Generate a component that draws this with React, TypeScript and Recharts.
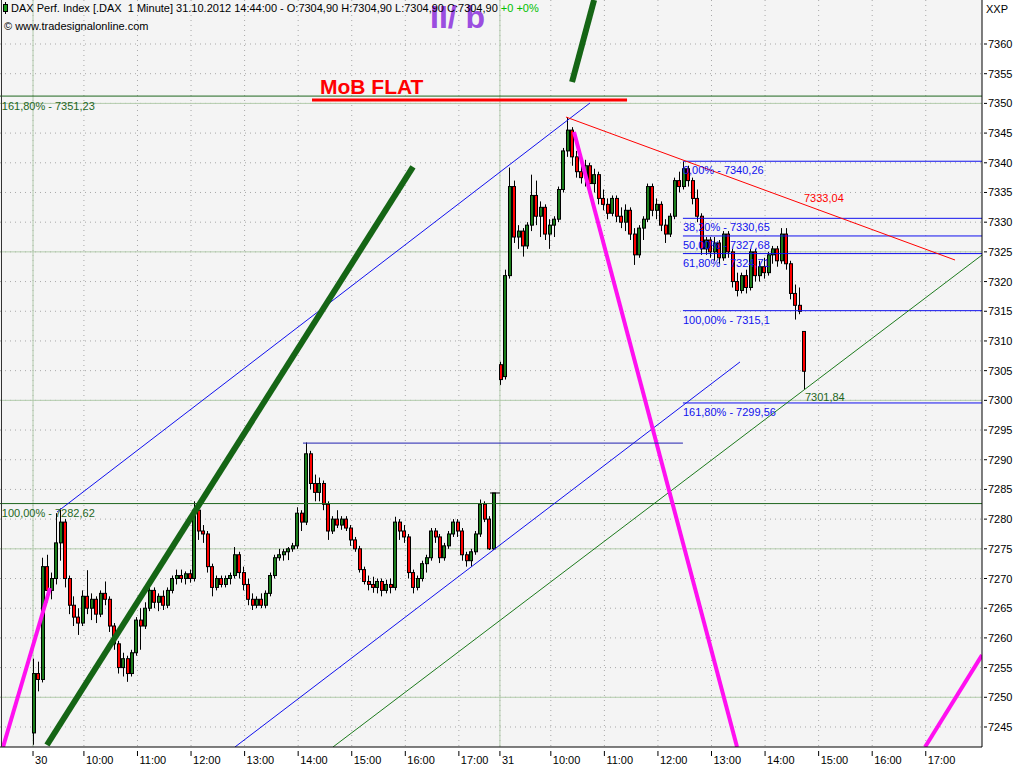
import React from "react";
import {
  ComposedChart,
  Bar,
  XAxis,
  YAxis,
  CartesianGrid,
  ReferenceLine,
  ReferenceDot,
} from "recharts";

type Ohlc = [number, number, number, number];

// 5-minute candles, 30.10.2012 (open, high, low, close)
const day1: Ohlc[] = [
  [7244, 7256.5, 7242, 7254], [7254, 7256, 7251, 7253], [7253, 7273.5, 7252.5, 7272], [7272, 7274, 7266, 7268],
  [7268, 7271, 7266.5, 7270], [7270, 7281, 7269, 7276], [7276, 7281.8, 7273, 7279.5], [7279.5, 7280, 7268.5, 7270],
  [7270, 7270.5, 7264, 7265.5], [7265.5, 7267, 7262, 7263.5], [7263.5, 7265, 7260.5, 7262.5], [7262.5, 7268, 7262, 7267],
  [7267, 7271.4, 7264, 7265], [7265, 7267.5, 7263, 7266.5], [7266.5, 7267, 7262.5, 7264], [7264, 7268, 7263.5, 7267.5],
  [7267.5, 7269.5, 7265.5, 7266.5], [7266.5, 7267, 7261, 7262], [7262, 7262.5, 7258, 7259], [7259, 7259.5, 7254, 7255],
  [7255, 7257.5, 7253.5, 7256.5], [7256.5, 7257, 7252.6, 7254], [7254, 7258, 7253.5, 7257.5], [7257.5, 7263.5, 7257, 7263],
  [7263, 7265, 7258, 7262], [7262, 7266, 7261.5, 7265], [7265, 7268.5, 7264.5, 7268], [7268, 7268.5, 7265, 7266],
  [7266, 7267.5, 7264.5, 7267], [7267, 7268, 7264.7, 7265.5], [7265.5, 7268.5, 7265, 7268], [7268, 7270.5, 7267.5, 7270],
  [7270, 7271.5, 7269, 7270.5], [7270.5, 7271.5, 7269.3, 7270], [7270, 7271.2, 7269, 7270.8], [7270.8, 7271.5, 7269.3, 7270],
  [7270, 7283, 7269.5, 7281.5], [7281.5, 7282, 7276.5, 7278], [7278, 7279, 7276, 7277.5], [7277.5, 7278, 7271, 7272],
  [7272, 7272.5, 7267, 7268.5], [7268.5, 7270.5, 7268, 7270], [7270, 7270.5, 7268.5, 7269], [7269, 7270.5, 7268.5, 7270],
  [7270, 7271, 7269, 7270.5], [7270.5, 7275.3, 7270, 7274], [7274, 7274.5, 7270, 7271], [7271, 7272, 7268, 7269],
  [7269, 7270, 7265.5, 7266.5], [7266.5, 7267.5, 7264.7, 7265.5], [7265.5, 7267, 7265, 7266.5], [7266.5, 7267.5, 7265, 7265.5],
  [7265.5, 7268, 7265, 7267.5], [7267.5, 7271, 7267, 7270.5], [7270.5, 7274, 7270, 7273.5], [7273.5, 7275, 7273, 7274],
  [7274, 7275, 7273, 7274.5], [7274.5, 7275.3, 7273.1, 7275], [7275, 7276, 7274.5, 7275.5], [7275.5, 7282, 7275, 7281],
  [7281, 7281.5, 7278, 7279.5], [7279.5, 7292.9, 7279, 7291], [7291, 7291.5, 7285, 7286], [7286, 7287.5, 7283, 7284.5],
  [7284.5, 7287, 7283, 7286], [7286, 7286.5, 7281.5, 7282.5], [7282.5, 7283, 7276.5, 7278], [7278, 7280.5, 7277.5, 7280],
  [7280, 7281.5, 7278.5, 7279], [7279, 7280.5, 7278.2, 7280], [7280, 7280.5, 7278, 7278.5], [7278.5, 7279, 7275.5, 7276.5],
  [7276.5, 7277, 7274.5, 7275], [7275, 7275.5, 7271, 7271.5], [7271.5, 7272, 7269, 7269.5], [7269.5, 7270.5, 7268, 7269],
  [7269, 7270.3, 7267.6, 7268.5], [7268.5, 7270, 7267.5, 7269.5], [7269.5, 7270, 7267, 7268], [7268, 7269.8, 7267.5, 7269],
  [7269, 7270, 7267.5, 7268.5], [7268.5, 7280.4, 7268, 7279.5], [7279.5, 7280, 7276.5, 7278], [7278, 7279, 7276, 7277],
  [7277, 7277.5, 7270, 7271], [7271, 7271.5, 7267.5, 7268.5], [7268.5, 7270.5, 7268, 7270], [7270, 7273, 7269.5, 7272.5],
  [7272.5, 7274, 7271, 7273.5], [7273.5, 7278.5, 7273, 7278], [7278, 7278.5, 7276, 7277], [7277, 7277.5, 7272.6, 7273.5],
  [7273.5, 7276, 7273, 7275.5], [7275.5, 7278, 7275, 7277.5], [7277.5, 7280, 7277, 7279.5], [7279.5, 7280, 7277, 7278],
  [7278, 7278.5, 7273, 7274], [7274, 7274.5, 7272, 7273], [7273, 7275, 7272, 7274.5], [7274.5, 7278, 7274, 7277.5],
  [7277.5, 7283.3, 7277, 7282.5], [7282.5, 7283, 7279.5, 7280], [7280, 7280.5, 7274.8, 7275], [7275, 7284.4, 7274.8, 7284.4],
];

// 5-minute candles, 31.10.2012 up to 14:44
const day2: Ohlc[] = [
  [7306, 7306.5, 7302.6, 7303.5], [7304, 7322, 7303.5, 7321], [7321, 7339.2, 7320.5, 7336], [7336, 7337, 7326.5, 7327.5],
  [7327.5, 7329.5, 7325.5, 7328.5], [7328.5, 7329, 7324.2, 7326], [7326, 7330, 7325.5, 7329.5], [7329.5, 7338, 7328.5, 7334.5],
  [7334.5, 7337, 7329.5, 7331], [7331, 7333.5, 7327.5, 7332.5], [7332.5, 7333, 7327, 7328], [7328, 7330.5, 7325.5, 7329.5],
  [7329.5, 7331, 7327.5, 7330.5], [7330.5, 7336, 7330, 7335.5], [7335.5, 7342.5, 7335, 7342], [7342, 7347.7, 7341, 7345.5],
  [7345.5, 7346, 7339.5, 7341], [7341, 7342, 7337.5, 7338.5], [7338.5, 7340.5, 7336.5, 7337.5], [7337.5, 7340.5, 7336, 7339.5],
  [7339.5, 7340, 7335.5, 7336.5], [7336.5, 7339, 7335, 7338], [7338, 7338.5, 7333, 7334], [7334, 7335.5, 7332, 7333],
  [7333, 7334, 7330.5, 7331.5], [7331.5, 7334.5, 7331, 7334], [7334, 7334.5, 7330, 7331], [7331, 7332.5, 7329, 7330],
  [7330, 7333, 7328.5, 7332], [7332, 7332.5, 7327, 7328], [7328, 7329, 7322.8, 7324.5], [7324.5, 7329.5, 7324, 7329],
  [7329, 7331, 7327, 7330.5], [7330.5, 7336.5, 7330, 7336], [7336, 7336.5, 7331, 7332], [7332, 7334, 7330.5, 7333],
  [7333, 7333.5, 7328.5, 7329.5], [7329.5, 7330.5, 7326.5, 7328], [7328, 7331.5, 7327.5, 7331], [7331, 7337.5, 7330.5, 7337],
  [7337, 7338.5, 7335, 7336], [7336, 7340.2, 7335.5, 7339], [7339, 7339.5, 7336, 7337], [7337, 7337.5, 7333, 7334],
  [7334, 7335.5, 7330, 7331], [7331, 7331.5, 7324.5, 7325.5], [7325.5, 7327.5, 7324.5, 7327], [7327, 7327.5, 7324, 7325],
  [7325, 7327.5, 7323.5, 7326.5], [7326.5, 7327, 7323, 7324], [7324, 7328.5, 7323.5, 7328], [7328, 7328.5, 7324, 7325],
  [7325, 7325.5, 7319, 7320], [7320, 7321.5, 7317.5, 7318.5], [7318.5, 7321.5, 7318, 7321], [7321, 7322, 7318, 7319],
  [7319, 7325.5, 7318.5, 7325], [7325, 7325.5, 7320, 7321], [7321, 7323.5, 7320, 7322.5], [7322.5, 7324, 7320.5, 7321.5],
  [7321.5, 7325, 7321, 7324.5], [7324.5, 7326, 7323, 7325.5], [7325.5, 7326, 7322.5, 7323.5], [7323.5, 7329, 7323, 7328],
  [7328, 7329, 7322, 7323], [7323, 7323.5, 7317, 7318], [7318, 7319.5, 7313.6, 7316], [7316, 7319, 7314.5, 7315],
  [7311.6, 7311.6, 7301.8, 7304.9],
];

// minutes after 09:00 on day 1; day 2 continues the same scale
const DAY1_FIRST = 3;
const DAY2_FIRST = 526;
const BAR_MIN = 5;

const timeTicks = [3, 60, 120, 180, 240, 300, 360, 420, 480, 526, 583, 643, 703, 763, 823, 883, 943, 1003];
const timeLabels = [
  "30", "10:00", "11:00", "12:00", "13:00", "14:00", "15:00", "16:00", "17:00",
  "31", "10:00", "11:00", "12:00", "13:00", "14:00", "15:00", "16:00", "17:00",
];
const dayLines = [3, 526];
const priceTicks = [
  7245, 7250, 7255, 7260, 7265, 7270, 7275, 7280, 7285, 7290, 7295, 7300,
  7305, 7310, 7315, 7320, 7325, 7330, 7335, 7340, 7345, 7350, 7355, 7360,
];
const majorPrices = [7250, 7275, 7300, 7325, 7350];

const fibPct = ["0,00%", "38,20%", "50,00%", "61,80%", "100,00%", "161,80%"];
const fibValues = [7340.26, 7330.65, 7327.68, 7324.71, 7315.1, 7299.56];
const FIB_FROM = 731;

const X_DOMAIN: [number, number] = [-34, 1066];
const Y_DOMAIN: [number, number] = [7241.63, 7367.41];

const RED = "#ff0000";
const GREEN = "#1b7d1b";
const DKGREEN = "#1e661e";
const BLUE = "#1010ee";
const MAGENTA = "#ff10f0";
const FONT = "'Liberation Sans', Arial, sans-serif";

// drawn tools: [t1, p1, t2, p2]
const trendLines: { pts: [number, number, number, number]; color: string; width: number }[] = [
  { pts: [229.2, 7241.63, 794.9, 7306.46], color: BLUE, width: 1 },
  { pts: [29.9, 7281.2, 626.9, 7350.07], color: BLUE, width: 1 },
  { pts: [339, 7241.63, 1066, 7324.47], color: "#1d7a1d", width: 1 },
  { pts: [600, 7347.7, 1035.8, 7323.63], color: RED, width: 1 },
  { pts: [18.6, 7241.97, 428.6, 7339.3], color: "#156515", width: 6 },
  { pts: [606.8, 7353.6, 631.5, 7367.41], color: "#156515", width: 6 },
  { pts: [609, 7345.2, 791.6, 7241.63], color: MAGENTA, width: 4 },
  { pts: [-30.6, 7241.63, 22, 7268.4], color: MAGENTA, width: 4 },
  { pts: [1002.2, 7241.63, 1066, 7257.1], color: MAGENTA, width: 4 },
  { pts: [315.5, 7350.57, 668.4, 7350.57], color: RED, width: 3 },
  { pts: [305.4, 7292.8, 731, 7292.8], color: "#2020b0", width: 1 },
  { pts: [514.9, 7284.4, 526, 7284.4], color: "#000", width: 1 },
];

const rows = [
  ...day1.map((k, i) => ({ t: DAY1_FIRST + i * BAR_MIN, o: k[0], h: k[1], l: k[2], c: k[3] })),
  ...day2.map((k, i) => ({ t: DAY2_FIRST + i * BAR_MIN, o: k[0], h: k[1], l: k[2], c: k[3] })),
];

const fmt = (v: number) => String(v).replace(".", ",");

function Candle(props: any) {
  const { x, y, width, height, payload } = props;
  if (!payload) return null;
  const { o, h, l, c } = payload;
  const ppu = h > l ? height / (h - l) : 0;
  const py = (p: number) => y + (h - p) * ppu;
  const top = py(Math.max(o, c));
  const bot = py(Math.min(o, c));
  const cx = Math.round(x + width / 2) + 0.5;
  return (
    <g>
      <line x1={cx} x2={cx} y1={y} y2={y + height} stroke="#000" strokeWidth={1} />
      <rect
        x={Math.round(x) + 0.5}
        y={top}
        width={width}
        height={Math.max(bot - top, 1)}
        fill={c >= o ? GREEN : RED}
        stroke="#000"
        strokeWidth={1}
      />
    </g>
  );
}

function TimeTick(props: any) {
  const { x, y, payload } = props;
  const idx = timeTicks.indexOf(payload.value);
  return (
    <g>
      <line x1={x} x2={x} y1={y + 4} y2={y + 9} stroke="#000" />
      <text x={x + 2} y={y + 17} fontSize={11} fontFamily={FONT} fill="#000">
        {timeLabels[idx]}
      </text>
    </g>
  );
}

function PriceTick(props: any) {
  const { x, y, payload } = props;
  return (
    <g>
      <line x1={x + 2} x2={x + 5} y1={y} y2={y} stroke="#000" />
      <text x={x + 6} y={y + 4} fontSize={11} fontFamily={FONT} fill="#000">
        {payload.value}
      </text>
    </g>
  );
}

function label(text: string, color: string, size = 11, dy = 0, bold = false) {
  return (p: any) => (
    <text
      x={p.cx}
      y={p.cy + dy}
      fill={color}
      fontSize={size}
      fontWeight={bold ? 700 : 400}
      fontFamily={FONT}
    >
      {text}
    </text>
  );
}

export default function App() {
  return (
    <div style={{ position: "absolute", left: 0, top: 0, width: 1024, height: 768, background: "#fff" }}>
      <ComposedChart width={1024} height={768} data={rows} margin={{ top: 0, right: 0, bottom: 0, left: 0 }}>
        <CartesianGrid
          fill="#f4f4f4"
          stroke="#a8a8a8"
          strokeDasharray="1 4"
          horizontalValues={priceTicks}
          verticalValues={timeTicks}
        />
        <CartesianGrid
          stroke="#b3ccad"
          horizontalValues={majorPrices}
          verticalValues={dayLines}
        />
        <XAxis
          dataKey="t"
          type="number"
          domain={X_DOMAIN}
          allowDataOverflow
          ticks={timeTicks}
          interval={0}
          height={21}
          tickSize={0}
          tickMargin={0}
          tickLine={false}
          axisLine={{ stroke: "#000" }}
          tick={<TimeTick />}
        />
        <YAxis
          orientation="right"
          type="number"
          domain={Y_DOMAIN}
          allowDataOverflow
          ticks={priceTicks}
          interval={0}
          width={42}
          tickSize={0}
          tickMargin={0}
          tickLine={false}
          axisLine={{ stroke: "#000" }}
          tick={<PriceTick />}
        />
        <ReferenceLine y={7351.23} stroke={DKGREEN} ifOverflow="hidden" />
        <ReferenceLine y={7282.62} stroke={DKGREEN} ifOverflow="hidden" />
        {fibValues.map((v) => (
          <ReferenceLine key={v} segment={[{ x: FIB_FROM, y: v }, { x: X_DOMAIN[1], y: v }]} stroke={BLUE} ifOverflow="hidden" />
        ))}
        <Bar
          dataKey={(d: any) => [d.l, d.h]}
          barSize={3}
          shape={<Candle />}
          isAnimationActive={false}
        />
        {trendLines.map((ln, i) => (
          <ReferenceLine
            key={i}
            segment={[{ x: ln.pts[0], y: ln.pts[1] }, { x: ln.pts[2], y: ln.pts[3] }]}
            stroke={ln.color}
            strokeWidth={ln.width}
            ifOverflow="hidden"
          />
        ))}
        <ReferenceDot x={447.7} y={7362.7} r={0} shape={label("II/ b", "#9b4de0", 32, 0, true)} />
        <ReferenceDot x={324.5} y={7351.6} r={0} shape={label("MoB FLAT", RED, 21, 0, true)} />
        <ReferenceDot x={-32} y={7351.23} r={0} shape={label("161,80% - 7351,23", DKGREEN, 11, 14)} />
        <ReferenceDot x={-32} y={7282.62} r={0} shape={label("100,00% - 7282,62", DKGREEN, 11, 13)} />
        {fibValues.map((v, i) => (
          <ReferenceDot
            key={"f" + v}
            x={FIB_FROM}
            y={v}
            r={0}
            shape={label(`${fibPct[i]} - ${fmt(v)}`, BLUE, 11, 13)}
          />
        ))}
        <ReferenceDot x={866.6} y={7333.04} r={0} shape={label("7333,04", RED, 11, -2)} />
        <ReferenceDot x={867.7} y={7301.84} r={0} shape={label("7301,84", DKGREEN, 11, 12)} />
      </ComposedChart>
      <svg
        width={1024}
        height={768}
        style={{ position: "absolute", left: 0, top: 0, pointerEvents: "none" }}
      >
        <line x1={1.5} x2={1.5} y1={0} y2={747} stroke="#333" />
        <line x1={5.5} x2={5.5} y1={2} y2={14} stroke="#000" />
        <rect x={3.5} y={4.5} width={4} height={7} fill="#1a9a1a" stroke="#000" />
        <text x={11} y={12} fontSize={11} fontFamily={FONT} fill="#000" style={{ whiteSpace: "pre" }}>
          {"DAX Perf. Index [.DAX  1 Minute] 31.10.2012 14:44:00 - O:7304,90 H:7304,90 L:7304,90 C:7304,90 "}
          <tspan fill="#00c000">+0 +0%</tspan>
        </text>
        <text x={4} y={30} fontSize={11} fontFamily={FONT} fill="#000">
          © www.tradesignalonline.com
        </text>
        <text x={986} y={13} fontSize={11} fontFamily={FONT} fill="#000">
          XXP
        </text>
      </svg>
    </div>
  );
}
